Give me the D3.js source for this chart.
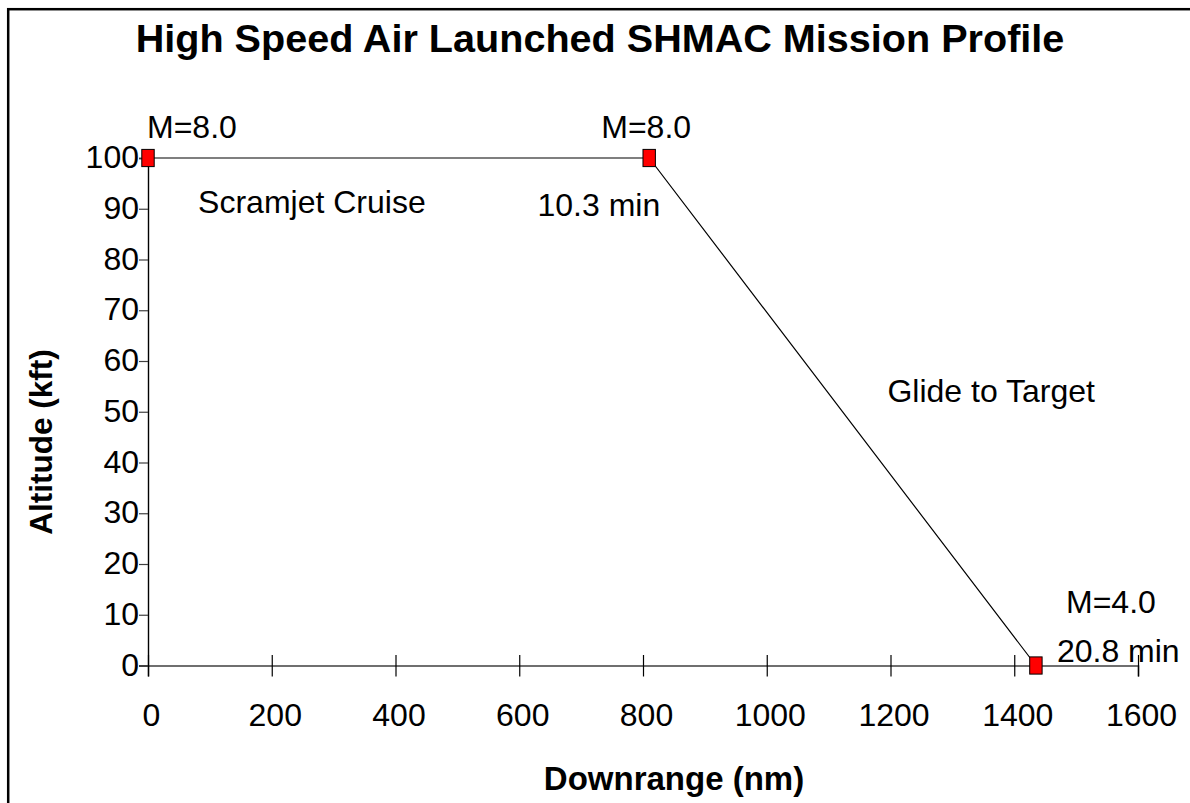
<!DOCTYPE html>
<html>
<head>
<meta charset="utf-8">
<script src="https://cdn.jsdelivr.net/npm/d3@7"></script>
<style>
  html, body { margin: 0; padding: 0; background: #fff; }
  svg { display: block; }
  text { font-family: "Liberation Sans", Arial, Helvetica, sans-serif; fill: #000; }
</style>
</head>
<body>
<svg id="chart" width="1190" height="803"></svg>
<script>
// Mission profile waypoints
const downrange = [0, 810, 1435];       // nm
const altitude  = [100, 100, 0];        // kft
const machLabels = ["M=8.0", "M=8.0", "M=4.0"];
const timeLabels = ["", "10.3 min", "20.8 min"];
const phaseLabels = ["Scramjet Cruise", "Glide to Target"];
const xTicks = [0, 200, 400, 600, 800, 1000, 1200, 1400, 1600];
const yTicks = [0, 10, 20, 30, 40, 50, 60, 70, 80, 90, 100];

const svg = d3.select("#chart");
const W = 1190, H = 803;
const plot = { left: 148, right: 1138, top: 158, bottom: 665.5 };

// outer frame
svg.append("rect")
  .attr("x", 8.2).attr("y", 9.2)
  .attr("width", W + 20).attr("height", H + 20)
  .attr("fill", "none").attr("stroke", "#000").attr("stroke-width", 2.5);

const x = d3.scaleLinear().domain([0, 1600]).range([plot.left, plot.right]);
const y = d3.scaleLinear().domain([0, 100]).range([plot.bottom, plot.top]);

// title
svg.append("text")
  .attr("x", 600).attr("y", 52)
  .attr("text-anchor", "middle")
  .style("font-weight", "bold").style("font-size", "39.6px")
  .text("High Speed Air Launched SHMAC Mission Profile");

// x axis
const xAxis = svg.append("g")
  .attr("transform", `translate(0,${plot.bottom})`)
  .call(d3.axisBottom(x).tickValues(xTicks).tickSize(11).tickPadding(0).tickFormat(d3.format("d")));
xAxis.select(".domain").attr("stroke", "#404040").attr("stroke-width", 1.6);
xAxis.selectAll(".tick line").attr("y1", -10.5).attr("stroke", "#000").attr("stroke-width", 1.2);
xAxis.selectAll(".tick text")
  .attr("y", 60).attr("dy", 0).attr("dx", 3)
  .style("font-size", "32px").style("font-family", "'Liberation Sans', Arial, sans-serif").attr("fill", "#000");

// y axis
const yAxis = svg.append("g")
  .attr("transform", `translate(${plot.left},0)`)
  .call(d3.axisLeft(y).tickValues(yTicks).tickSize(9).tickPadding(0).tickFormat(d3.format("d")));
yAxis.select(".domain").attr("stroke", "#000").attr("stroke-width", 1.4);
yAxis.selectAll(".tick line").attr("stroke", "#404040").attr("stroke-width", 1.2);
yAxis.selectAll(".tick text")
  .attr("x", -9).attr("dy", "0.3em")
  .style("font-size", "32px").style("font-family", "'Liberation Sans', Arial, sans-serif").attr("fill", "#000");

// axis titles
svg.append("text")
  .attr("x", 674).attr("y", 790)
  .attr("text-anchor", "middle")
  .style("font-weight", "bold").style("font-size", "33px")
  .text("Downrange (nm)");

svg.append("text")
  .attr("transform", "translate(52,442) rotate(-90)")
  .attr("text-anchor", "middle")
  .style("font-weight", "bold").style("font-size", "31.5px")
  .text("Altitude (kft)");

// trajectory
const pts = downrange.map((d, i) => [d, altitude[i]]);
svg.append("path")
  .datum(pts)
  .attr("fill", "none").attr("stroke", "#000").attr("stroke-width", 1.2)
  .attr("d", d3.line().x(d => x(d[0])).y(d => y(d[1])));

// waypoint markers
svg.selectAll("rect.marker")
  .data(pts)
  .join("rect")
  .attr("class", "marker")
  .attr("x", d => x(d[0]) - 6.2).attr("y", d => y(d[1]) - 8.6)
  .attr("width", 12.4).attr("height", 17.2)
  .attr("fill", "#ff0000").attr("stroke", "#000").attr("stroke-width", 1);

// waypoint annotations (offsets in px from each marker)
const machPlacement = [
  { dx: -1, dy: -20, anchor: "start" },
  { dx: -3, dy: -20, anchor: "middle" },
  { dx: 75, dy: -53, anchor: "middle" }
];
const timePlacement = [
  null,
  { dx: 11, dy: 58, anchor: "end" },
  { dx: 21, dy: -4, anchor: "start" }
];
pts.forEach((p, i) => {
  const px = x(p[0]), py = y(p[1]);
  const m = machPlacement[i];
  svg.append("text")
    .attr("x", px + m.dx).attr("y", py + m.dy)
    .attr("text-anchor", m.anchor)
    .style("font-size", "32px")
    .text(machLabels[i]);
  const t = timePlacement[i];
  if (t && timeLabels[i]) {
    svg.append("text")
      .attr("x", px + t.dx).attr("y", py + t.dy)
      .attr("text-anchor", t.anchor)
      .style("font-size", "32px")
      .text(timeLabels[i]);
  }
});

// flight phase labels
svg.append("text")
  .attr("x", x(81)).attr("y", 213)
  .style("font-size", "32px")
  .text(phaseLabels[0]);
svg.append("text")
  .attr("x", x(1195)).attr("y", 402)
  .style("font-size", "32px")
  .text(phaseLabels[1]);
</script>
</body>
</html>
